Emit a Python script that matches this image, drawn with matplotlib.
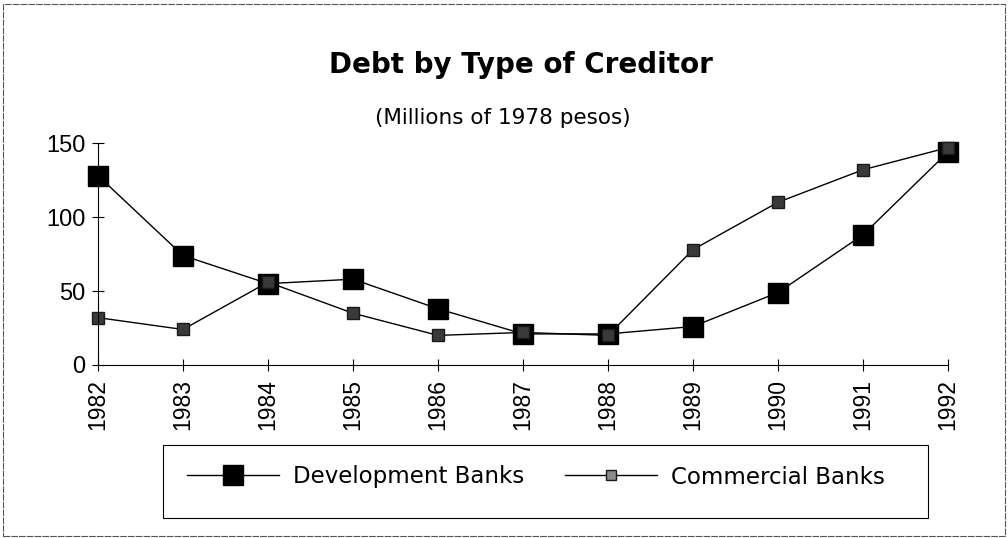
import matplotlib.pyplot as plt
from matplotlib.patches import Rectangle

years = [1982, 1983, 1984, 1985, 1986, 1987, 1988, 1989, 1990, 1991, 1992]
development = [128, 74, 55, 58, 38, 21, 21, 26, 49, 88, 144]
commercial = [32, 24, 56, 35, 20, 22, 20, 78, 110, 132, 147]

plt.rcParams['font.family'] = ['Liberation Sans', 'DejaVu Sans']

fig = plt.figure(figsize=(10.08, 5.38), dpi=100)
ax = fig.add_axes([0.0972, 0.3216, 0.8433, 0.4124])

# contour de la figure
fig.patches.append(Rectangle((0.003, 0.004), 0.994, 0.988, transform=fig.transFigure,
                             fill=False, edgecolor='#555555', lw=0.8, ls=(0, (6, 1))))

ax.plot(years, development, color='black', lw=1, marker='s', markersize=14.5,
        markerfacecolor='black', markeredgecolor='black', label='Development Banks', clip_on=False)
ax.plot(years, commercial, color='black', lw=1, marker='s', markersize=8.5,
        markerfacecolor='#3a3a3a', markeredgecolor='#1a1a1a', label='Commercial Banks', clip_on=False)

ax.set_xlim(1982, 1992)
ax.set_ylim(0, 150)
ax.set_xticks(years)
ax.set_xticklabels([str(y) for y in years], rotation=90, fontsize=16.5)
ax.set_yticks([0, 50, 100, 150])
ax.tick_params(axis='y', labelsize=17, direction='inout', length=8, pad=5)
ax.tick_params(axis='x', direction='inout', length=8, pad=6)
ax.spines['top'].set_visible(False)
ax.spines['right'].set_visible(False)
ax.spines['left'].set_linewidth(0.8)
ax.spines['bottom'].set_linewidth(0.8)

fig.text(0.517, 0.879, 'Debt by Type of Creditor', ha='center', va='center',
         fontsize=20, fontweight='bold', family='DejaVu Sans')
fig.text(0.499, 0.781, '(Millions of 1978 pesos)', ha='center', va='center',
         fontsize=15.5, family='DejaVu Sans')

# cadre de la légende
fig.patches.append(Rectangle((163 / 1008, 1 - 518 / 538), (928 - 163) / 1008, 73 / 538,
                             transform=fig.transFigure, fill=False, edgecolor='black', lw=0.8))
leg = fig.legend(loc='center', bbox_to_anchor=(536 / 1008, 1 - 477 / 538), ncol=2,
                 prop={'family': 'DejaVu Sans', 'size': 16.5},
                 frameon=False, handlelength=4.0, columnspacing=1.8, handletextpad=0.6)
leg.legend_handles[1].set_markerfacecolor('#8a8a8a')
leg.legend_handles[1].set_markersize(7.5)

fig.savefig('out.png', dpi=100)
